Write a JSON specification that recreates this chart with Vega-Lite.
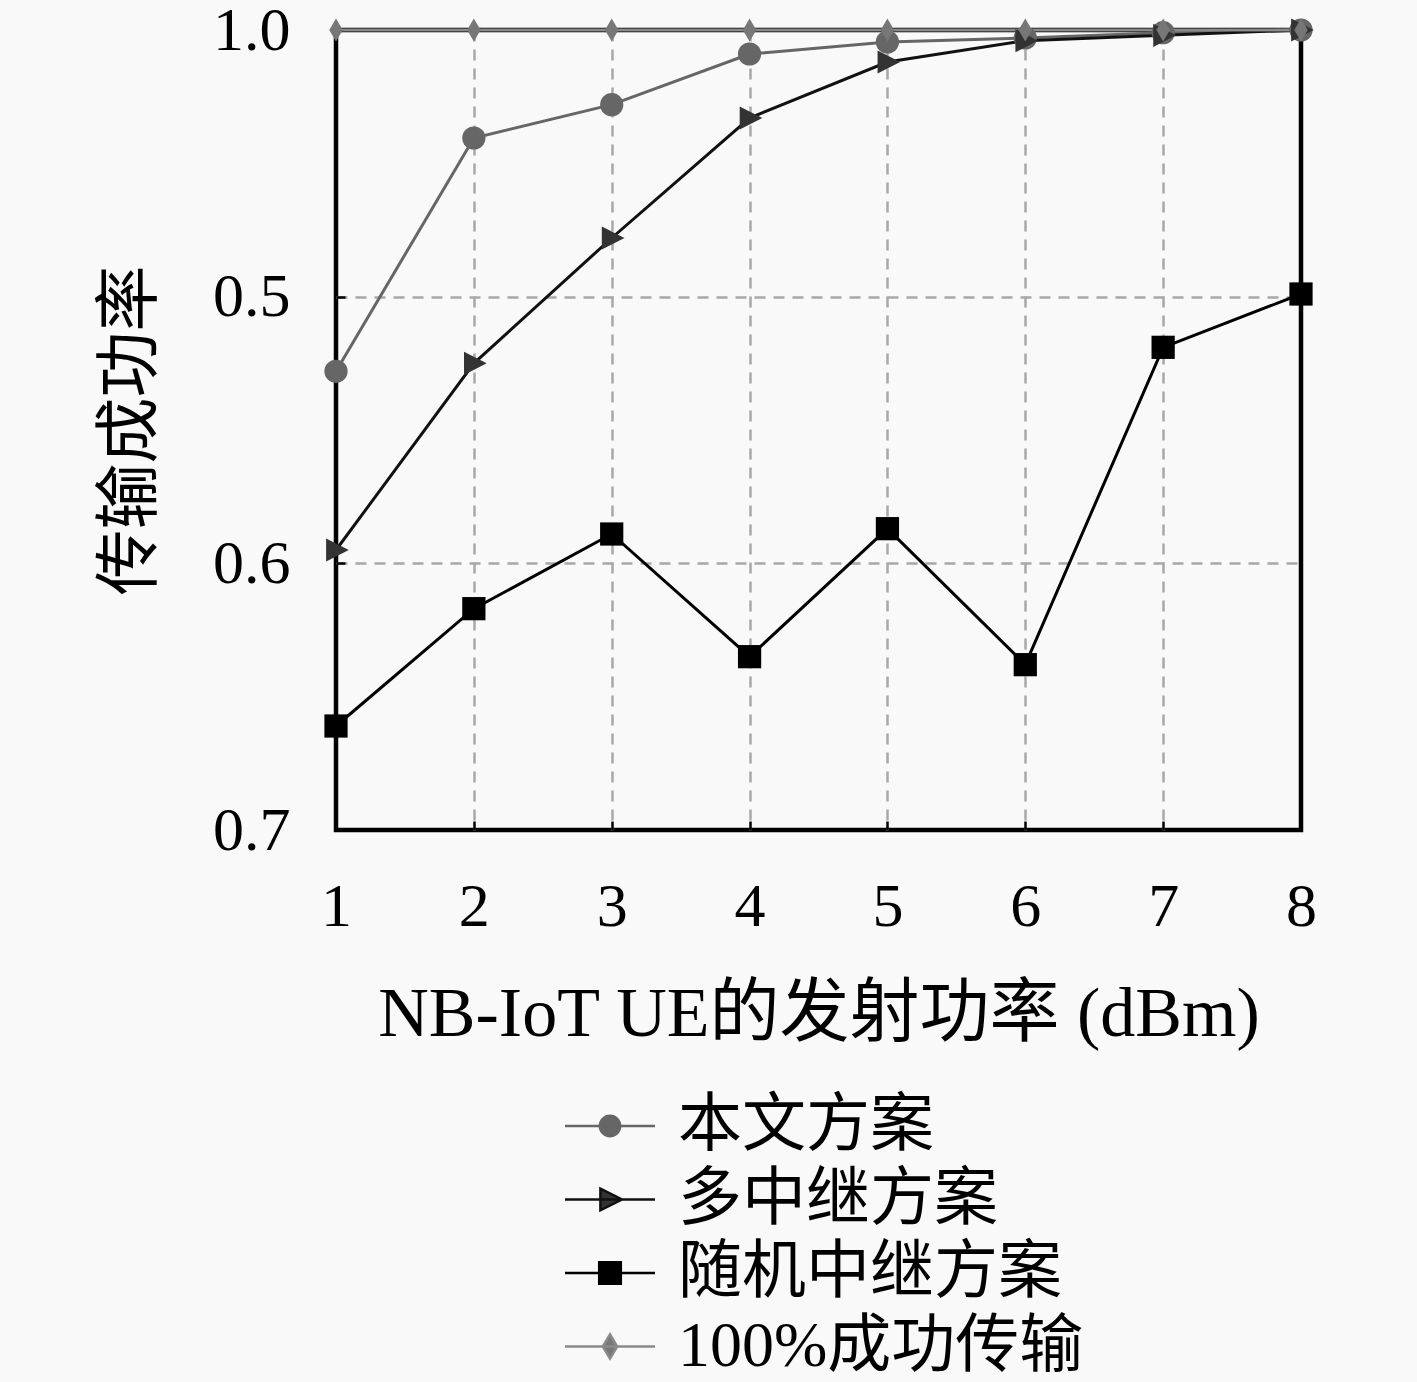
{
  "$schema": "https://vega.github.io/schema/vega-lite/v6.json",
  "width": 965,
  "height": 800,
  "autosize": {"type": "none"},
  "padding": {"left": 336, "top": 30, "right": 116, "bottom": 552},
  "background": "#f9f9f9",
  "config": {
    "font": "Liberation Serif, Noto Sans CJK SC",
    "view": {"stroke": "#000000", "strokeWidth": 4.5},
    "axis": {
      "domain": false,
      "ticks": true,
      "tickSize": -9,
      "tickWidth": 2.5,
      "tickColor": "#000000",
      "grid": true,
      "gridColor": "#a8a8a8",
      "gridDash": [11, 8],
      "gridWidth": 2.5,
      "labelColor": "#000000",
      "labelFontSize": 62,
      "labelFlush": false,
      "labelBound": false,
      "labelOverlap": false,
      "titleColor": "#000000",
      "titleFontWeight": "normal"
    }
  },
  "data": {
    "values": [
      {"power": 1, "rate": 0.872, "scheme": "本文方案"},
      {"power": 2, "rate": 0.9595, "scheme": "本文方案"},
      {"power": 3, "rate": 0.972, "scheme": "本文方案"},
      {"power": 4, "rate": 0.991, "scheme": "本文方案"},
      {"power": 5, "rate": 0.9955, "scheme": "本文方案"},
      {"power": 6, "rate": 0.997, "scheme": "本文方案"},
      {"power": 7, "rate": 0.999, "scheme": "本文方案"},
      {"power": 8, "rate": 1.0, "scheme": "本文方案"},
      {"power": 1, "rate": 0.805, "scheme": "多中继方案"},
      {"power": 2, "rate": 0.875, "scheme": "多中继方案"},
      {"power": 3, "rate": 0.922, "scheme": "多中继方案"},
      {"power": 4, "rate": 0.967, "scheme": "多中继方案"},
      {"power": 5, "rate": 0.988, "scheme": "多中继方案"},
      {"power": 6, "rate": 0.996, "scheme": "多中继方案"},
      {"power": 7, "rate": 0.998, "scheme": "多中继方案"},
      {"power": 8, "rate": 1.0, "scheme": "多中继方案"},
      {"power": 1, "rate": 0.739, "scheme": "随机中继方案"},
      {"power": 2, "rate": 0.783, "scheme": "随机中继方案"},
      {"power": 3, "rate": 0.811, "scheme": "随机中继方案"},
      {"power": 4, "rate": 0.765, "scheme": "随机中继方案"},
      {"power": 5, "rate": 0.813, "scheme": "随机中继方案"},
      {"power": 6, "rate": 0.762, "scheme": "随机中继方案"},
      {"power": 7, "rate": 0.881, "scheme": "随机中继方案"},
      {"power": 8, "rate": 0.901, "scheme": "随机中继方案"},
      {"power": 1, "rate": 1.0, "scheme": "100%成功传输"},
      {"power": 2, "rate": 1.0, "scheme": "100%成功传输"},
      {"power": 3, "rate": 1.0, "scheme": "100%成功传输"},
      {"power": 4, "rate": 1.0, "scheme": "100%成功传输"},
      {"power": 5, "rate": 1.0, "scheme": "100%成功传输"},
      {"power": 6, "rate": 1.0, "scheme": "100%成功传输"},
      {"power": 7, "rate": 1.0, "scheme": "100%成功传输"},
      {"power": 8, "rate": 1.0, "scheme": "100%成功传输"}
    ]
  },
  "layer": [
    {
      "mark": {"type": "line", "strokeWidth": 3},
      "encoding": {
        "x": {
          "field": "power",
          "type": "quantitative",
          "scale": {"domain": [1, 8], "nice": false, "zero": false},
          "axis": {
            "values": [1, 2, 3, 4, 5, 6, 7, 8],
            "format": "d",
            "title": "NB-IoT UE的发射功率 (dBm)",
            "labelPadding": 55,
            "gridOpacity": {"condition": {"test": "datum.value == 1 || datum.value == 8", "value": 0}, "value": 1},
            "titleFontSize": 70,
            "titleX": 482.5,
            "titleY": 205,
            "titleAlign": "center",
            "titleBaseline": "alphabetic"
          }
        },
        "y": {
          "field": "rate",
          "type": "quantitative",
          "scale": {"domain": [0.7, 1.0], "nice": false, "zero": false},
          "axis": {
            "values": [0.7, 0.8, 0.9, 1.0],
            "labelExpr": "datum.value > 0.95 ? '1.0' : datum.value > 0.85 ? '0.5' : datum.value > 0.75 ? '0.6' : '0.7'",
            "gridOpacity": {"condition": {"test": "datum.value < 0.75 || datum.value > 0.95", "value": 0}, "value": 1},
            "title": "传输成功率",
            "labelPadding": 55,
            "titleFontSize": 66,
            "titleX": -206,
            "titleY": 400,
            "titleAngle": 270,
            "titleAlign": "center",
            "titleBaseline": "middle"
          }
        },
        "color": {
          "field": "scheme",
          "type": "nominal",
          "scale": {
            "domain": ["本文方案", "多中继方案", "随机中继方案", "100%成功传输"],
            "range": ["#666666", "#111111", "#000000", "#8a8a8a"]
          },
          "legend": null
        }
      }
    },
    {
      "mark": {"type": "point", "filled": true, "size": 540, "opacity": 1},
      "encoding": {
        "x": {"field": "power", "type": "quantitative"},
        "y": {"field": "rate", "type": "quantitative"},
        "color": {
          "field": "scheme",
          "type": "nominal",
          "scale": {
            "domain": ["本文方案", "多中继方案", "随机中继方案", "100%成功传输"],
            "range": ["#666666", "#333333", "#000000", "#777777"]
          },
          "legend": null
        },
        "shape": {
          "field": "scheme",
          "type": "nominal",
          "scale": {
            "domain": ["本文方案", "多中继方案", "随机中继方案", "100%成功传输"],
            "range": ["circle", "M-0.85,-1L1.1,0L-0.85,1Z", "square", "M0,-1L0.58,0L0,1L-0.58,0Z"]
          },
          "legend": null
        }
      }
    },
    {
      "transform": [{"filter": "false"}],
      "mark": {"type": "point", "filled": true, "size": 576, "strokeWidth": 2.5, "opacity": 1},
      "encoding": {
        "color": {
          "field": "scheme",
          "type": "nominal",
          "scale": {
            "domain": ["本文方案", "多中继方案", "随机中继方案", "100%成功传输"],
            "range": ["#666666", "#333333", "#000000", "#777777"]
          },
          "legend": {
            "orient": "none",
            "legendX": 242,
            "legendY": 1064,
            "direction": "vertical",
            "title": null,
            "padding": 0,
            "labelFontSize": 64,
            "labelLimit": 800,
            "labelColor": "#000000",
            "labelOffset": 36,
            "rowPadding": 9.5,
            "symbolSize": 576,
            "symbolStrokeWidth": 2.5,
            "symbolOpacity": 1
          }
        },
        "stroke": {
          "field": "scheme",
          "type": "nominal",
          "scale": {
            "domain": ["本文方案", "多中继方案", "随机中继方案", "100%成功传输"],
            "range": ["#666666", "#111111", "#000000", "#8a8a8a"]
          },
          "legend": {
            "orient": "none",
            "legendX": 242,
            "legendY": 1064,
            "direction": "vertical",
            "title": null,
            "padding": 0,
            "labelFontSize": 64,
            "labelLimit": 800,
            "labelColor": "#000000",
            "labelOffset": 36,
            "rowPadding": 9.5,
            "symbolSize": 576,
            "symbolStrokeWidth": 2.5,
            "symbolOpacity": 1
          }
        },
        "shape": {
          "field": "scheme",
          "type": "nominal",
          "scale": {
            "domain": ["本文方案", "多中继方案", "随机中继方案", "100%成功传输"],
            "range": [
              "M-3.75,0L3.75,0M0.85,0A0.85,0.85 0 1,1 -0.85,0A0.85,0.85 0 1,1 0.85,0Z",
              "M-3.75,0L3.75,0M-0.8,-0.9L1,0L-0.8,0.9Z",
              "M-3.75,0L3.75,0M-0.9,-0.9L0.9,-0.9L0.9,0.9L-0.9,0.9Z",
              "M-3.75,0L3.75,0M0,-1L0.6,0L0,1L-0.6,0Z"
            ]
          },
          "legend": {
            "orient": "none",
            "legendX": 242,
            "legendY": 1064,
            "direction": "vertical",
            "title": null,
            "padding": 0,
            "labelFontSize": 64,
            "labelLimit": 800,
            "labelColor": "#000000",
            "labelOffset": 36,
            "rowPadding": 9.5,
            "symbolSize": 576,
            "symbolStrokeWidth": 2.5,
            "symbolOpacity": 1
          }
        }
      }
    }
  ],
  "resolve": {"scale": {"color": "independent", "shape": "independent", "stroke": "independent"}}
}
